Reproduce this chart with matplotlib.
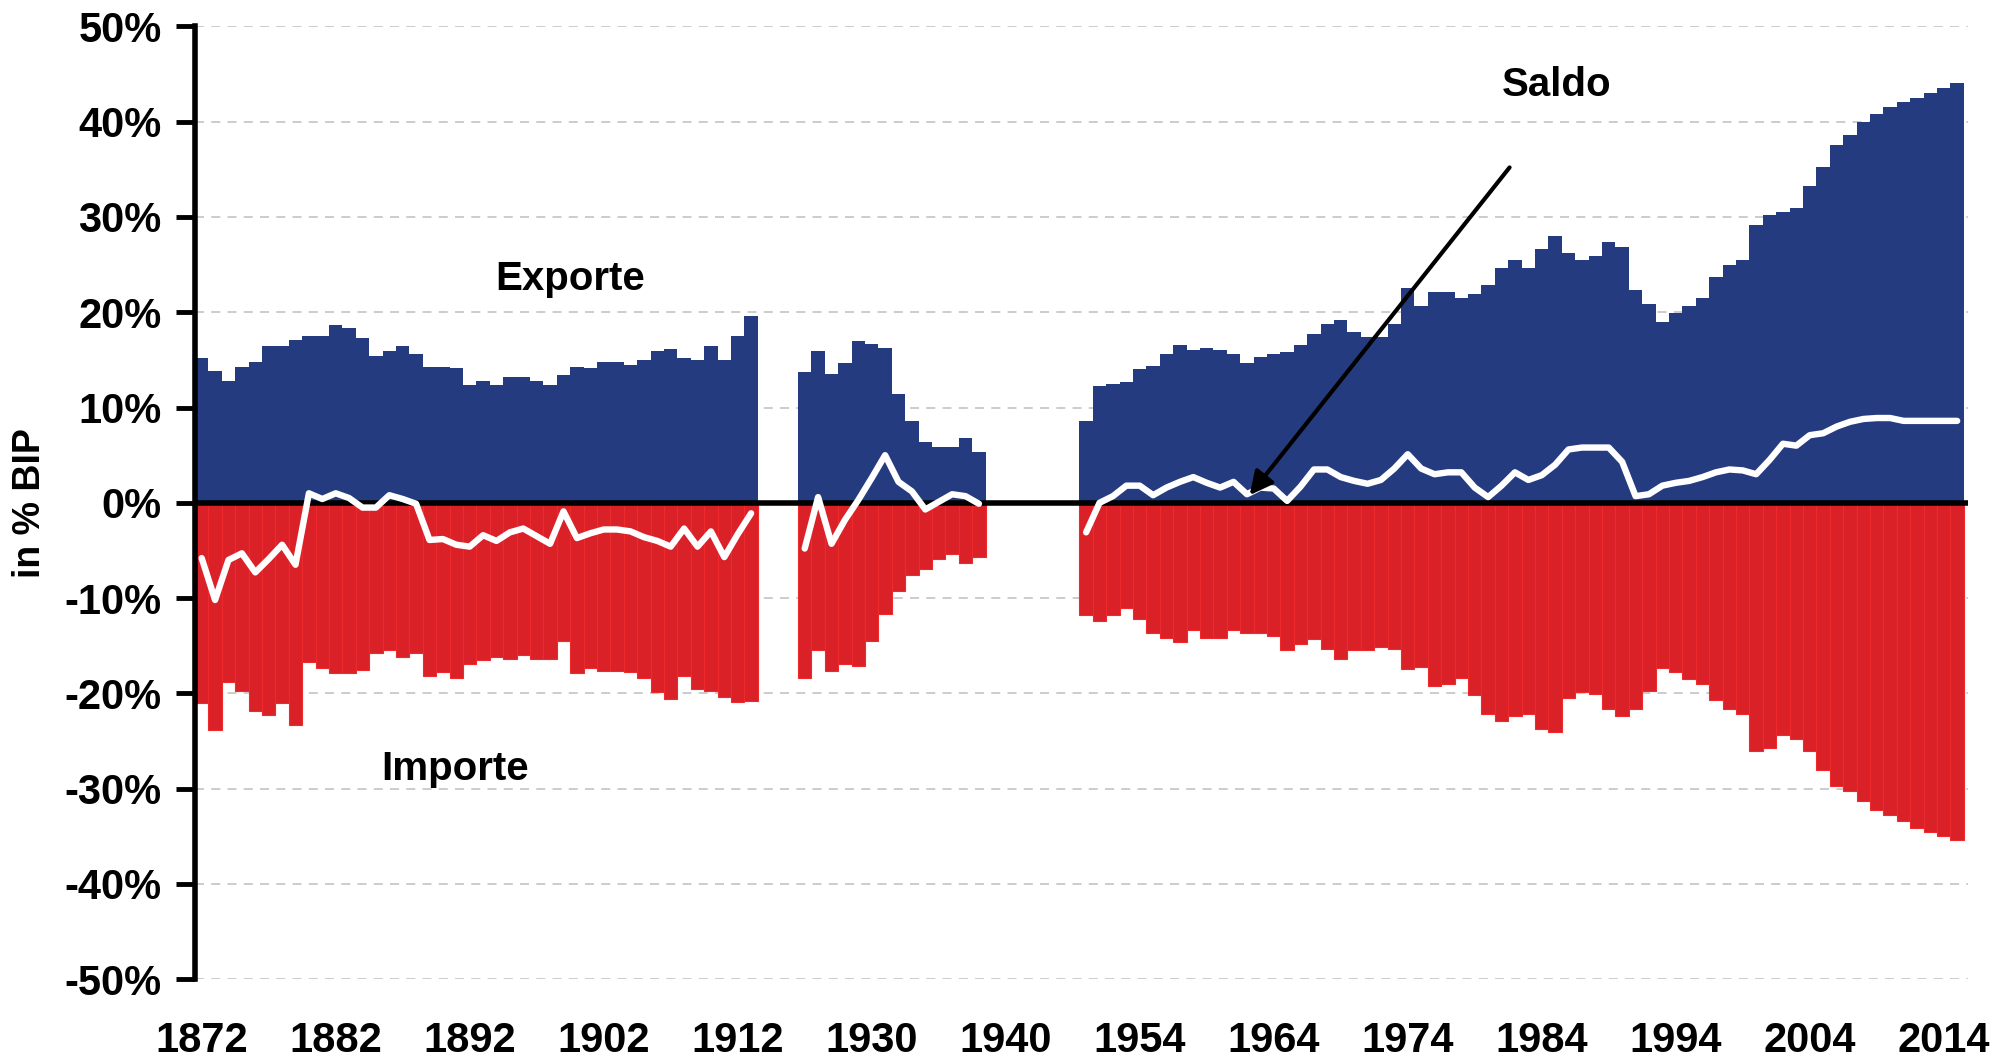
import numpy as np
import pandas as pd
import matplotlib
matplotlib.use('Agg')
import matplotlib.pyplot as plt

plt.rcParams['font.family'] = ['Liberation Sans', 'DejaVu Sans']
plt.rcParams['font.weight'] = 'bold'

# Exporte / Importe / Saldo in % BIP

# 1872 - 1913
years_a = list(range(1872, 1914))
exports_a = [15.2, 13.8, 12.8, 14.3, 14.8, 16.5, 16.5, 17.1, 17.5, 17.5,
             18.7, 18.3, 17.3, 15.4, 15.9, 16.5, 15.6, 14.3, 14.3, 14.1,
             12.4, 12.8, 12.4, 13.2, 13.2, 12.8, 12.4, 13.4, 14.3, 14.1,
             14.8, 14.8, 14.5, 15.0, 15.9, 16.1, 15.2, 15.0, 16.5, 15.0,
             17.5, 19.6]
imports_a = [-21.0, -23.8, -18.8, -19.7, -21.8, -22.3, -21.0, -23.3, -16.7, -17.3,
             -17.9, -17.9, -17.5, -15.8, -15.4, -16.2, -15.8, -18.2, -17.8, -18.4,
             -16.9, -16.5, -16.2, -16.4, -16.0, -16.4, -16.4, -14.5, -17.9, -17.3,
             -17.7, -17.6, -17.8, -18.4, -19.9, -20.6, -18.2, -19.5, -19.7, -20.4,
             -20.9, -20.8]
saldo_a = [-5.8, -10.2, -6.0, -5.3, -7.3, -5.9, -4.4, -6.5, 1.0, 0.4,
           1.0, 0.5, -0.5, -0.5, 0.8, 0.4, -0.1, -3.9, -3.8, -4.4,
           -4.6, -3.4, -4.0, -3.1, -2.7, -3.5, -4.3, -0.9, -3.7, -3.2,
           -2.8, -2.8, -3.0, -3.6, -4.0, -4.6, -2.7, -4.6, -3.0, -5.7,
           -3.3, -1.1]

# Luecke Erster Weltkrieg
gap_a = [1914, 1919, 1924]

# 1925 - 1938
years_b = list(range(1925, 1939))
exports_b = [13.7, 15.9, 13.5, 14.7, 17.0, 16.7, 16.3, 11.4, 8.6, 6.4, 5.9, 5.9, 6.8, 5.3]
imports_b = [-18.4, -15.4, -17.7, -16.9, -17.1, -14.5, -11.7, -9.3, -7.6, -6.9, -5.9, -5.4, -6.3, -5.7]
saldo_b = [-4.8, 0.6, -4.3, -1.8, 0.3, 2.6, 5.0, 2.2, 1.2, -0.7, 0.1, 0.9, 0.7, -0.1]

# Luecke Zweiter Weltkrieg
gap_b = [1939, 1940, 1945, 1946, 1947, 1948, 1949]

# 1950 - 2015
years_c = list(range(1950, 2016))
exports_c = [8.6, 12.3, 12.5, 12.7, 14.0, 14.4, 15.6, 16.6, 16.0, 16.2,
             16.0, 15.6, 14.7, 15.3, 15.6, 15.8, 16.6, 17.7, 18.8, 19.2,
             17.9, 17.4, 17.4, 18.8, 22.5, 20.7, 22.1, 22.1, 21.5, 21.9,
             22.9, 24.6, 25.5, 24.6, 26.6, 28.0, 26.2, 25.5, 25.9, 27.4,
             26.8, 22.3, 20.9, 19.0, 19.9, 20.7, 21.5, 23.7, 25.0, 25.5,
             29.2, 30.2, 30.5, 30.9, 33.3, 35.2, 37.6, 38.6, 40.0, 40.8,
             41.5, 42.1, 42.5, 43.0, 43.5, 44.1]
imports_c = [-11.8, -12.4, -11.8, -11.0, -12.2, -13.7, -14.2, -14.6, -13.4, -14.2,
             -14.2, -13.4, -13.7, -13.7, -14.0, -15.5, -14.8, -14.3, -15.3, -16.4,
             -15.5, -15.5, -15.1, -15.3, -17.4, -17.2, -19.2, -19.0, -18.4, -20.2,
             -22.2, -22.9, -22.4, -22.2, -23.7, -24.1, -20.5, -19.9, -20.1, -21.6,
             -22.4, -21.6, -19.8, -17.3, -17.8, -18.5, -19.0, -20.7, -21.6, -22.2,
             -26.1, -25.7, -24.4, -24.8, -26.1, -28.0, -29.7, -30.2, -31.3, -32.2,
             -32.8, -33.4, -34.1, -34.5, -35.0, -35.4]
saldo_c = [-3.1, 0.0, 0.7, 1.8, 1.8, 0.8, 1.6, 2.2, 2.7, 2.1,
           1.6, 2.2, 0.9, 1.6, 1.5, 0.2, 1.7, 3.5, 3.5, 2.7,
           2.3, 2.0, 2.4, 3.6, 5.1, 3.6, 3.0, 3.2, 3.2, 1.6,
           0.6, 1.8, 3.2, 2.4, 2.9, 4.0, 5.6, 5.8, 5.8, 5.8,
           4.3, 0.7, 0.9, 1.8, 2.1, 2.3, 2.7, 3.2, 3.5, 3.4,
           3.0, 4.5, 6.2, 6.0, 7.1, 7.3, 8.0, 8.5, 8.8, 8.9,
           8.9, 8.6, 8.6, 8.6, 8.6, 8.6]


def periode(jahre, exp=None, imp=None, sal=None):
    if exp is None:
        return pd.DataFrame({'jahr': jahre})
    return pd.DataFrame({'jahr': jahre, 'export': exp, 'import': imp, 'saldo': sal})


df = pd.concat([periode(years_a, exports_a, imports_a, saldo_a),
                periode(gap_a),
                periode(years_b, exports_b, imports_b, saldo_b),
                periode(gap_b),
                periode(years_c, exports_c, imports_c, saldo_c)],
               ignore_index=True)

x = df.index.values

fig = plt.figure(figsize=(20.06, 10.57), dpi=100)
ax = fig.add_axes([0.0972, 0.0736, 0.981 - 0.0972, 0.975 - 0.0736])

blau = '#243c7f'
rot = '#da2128'

ax.bar(x, df['export'].fillna(0), width=1.0, color=blau, linewidth=0, zorder=2)
ax.bar(x, df['import'].fillna(0), width=1.0, color=rot, edgecolor='#ee2a2d',
       linewidth=0.8, zorder=2)
ax.axhline(0, color='black', lw=4, zorder=3)
ax.plot(x, df['saldo'], color='white', lw=4.6, zorder=4,
        solid_capstyle='round', solid_joinstyle='round')

ax.set_xlim(-0.5, 131.8)
ax.set_ylim(-50, 50)

yt = np.arange(-50, 51, 10)
ax.set_yticks(yt)
ax.set_yticklabels([f'{v}%' for v in yt])
ax.set_xticks(x[::10])
ax.set_xticklabels(df['jahr'][::10])

ax.tick_params(axis='x', length=0, pad=30, labelsize=30)
ax.tick_params(axis='y', length=14, width=3.5, direction='out', pad=10, labelsize=30)

ax.yaxis.grid(True, color='#c8c8c8', linestyle=(0, (5, 4)), linewidth=1.3)
ax.set_axisbelow(True)

for s in ['top', 'right', 'bottom']:
    ax.spines[s].set_visible(False)
ax.spines['left'].set_linewidth(4)

ax.set_ylabel('in % BIP', fontsize=27, fontweight='bold')
ax.yaxis.set_label_coords(-0.083, 0.5)

ax.text(27.5, 23.5, 'Exporte', ha='center', va='center', fontsize=29, fontweight='bold')
ax.text(18.9, -27.9, 'Importe', ha='center', va='center', fontsize=29, fontweight='bold')
ax.text(101.1, 43.9, 'Saldo', ha='center', va='center', fontsize=29, fontweight='bold')

ax.annotate('', xy=(78.2, 0.8), xytext=(97.6, 35.2),
            arrowprops=dict(arrowstyle='-|>', lw=3, color='black',
                            mutation_scale=35, shrinkA=0, shrinkB=0),
            zorder=5)

fig.savefig('out.png', dpi=100)
